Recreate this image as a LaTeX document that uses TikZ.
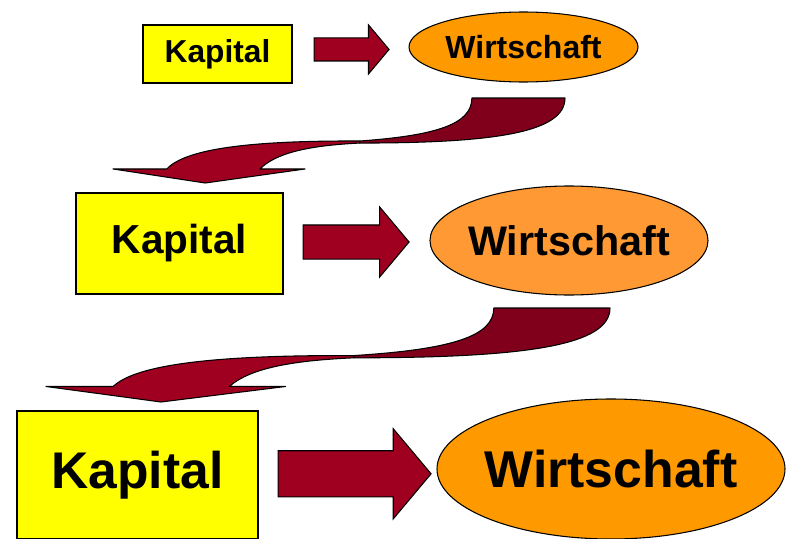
\documentclass[tikz,border=0pt]{standalone}
\usepackage{fontspec}
\setmainfont{Liberation Sans}
\usetikzlibrary{shapes.geometric, shapes.arrows, calc}
\definecolor{kapyellow}{RGB}{255, 255, 0}
\definecolor{wirtorange}{RGB}{255, 153, 0}
\definecolor{wirtlight}{RGB}{255, 153, 51}
\definecolor{arrowred}{RGB}{160, 0, 32}
\definecolor{arrowdark}{RGB}{128, 0, 28}
\newcommand{\ctext}[1]{\makebox[0pt]{#1}}
\tikzset{
    kbox/.style={rectangle, draw, fill=kapyellow, line width=0.8pt, inner sep=0pt, font=\bfseries},
    wellipse/.style={ellipse, draw, fill=wirtorange, line width=0.8pt, inner sep=0pt, font=\bfseries},
    fat/.style={single arrow, draw, fill=arrowred, line width=0.8pt, inner xsep=0pt, single arrow tip angle=100, anchor=tail},
    twist/.pic={
        % dark upper half
        \filldraw[fill=arrowdark, draw=black, line width=0.8pt, line join=round]
            (0.546,0.506) .. controls (0.72,0.44) and (0.794,0.30) .. (0.794,0) -- (1,0)
            .. controls (1,0.4) and (0.85,0.53) .. (0.546,0.53) -- cycle;
        % bright lower half with head
        \filldraw[fill=arrowred, draw=black, line width=0.8pt, line join=round]
            (0.546,0.506) .. controls (0.30,0.50) and (0.16,0.60) .. (0.119,0.835)
            -- (0,0.835) -- (0.204,1) -- (0.425,0.835) -- (0.325,0.835)
            .. controls (0.36,0.65) and (0.43,0.56) .. (0.546,0.53) -- cycle;
    }
}

\begin{document}
\begin{tikzpicture}[x=0.75pt, y=-0.75pt]
    \useasboundingbox (0,0) rectangle (786,539);

    % Row 1
    \node[kbox, minimum width=111.75pt, minimum height=43.5pt, font=\bfseries\fontsize{23.8pt}{28pt}\selectfont] (k1) at (217.5,54) {Kapital};
    \node[wellipse, minimum width=171.75pt, minimum height=52.5pt, font=\bfseries\fontsize{24pt}{28pt}\selectfont] (w1) at (523.5,47) {\ctext{Wirtschaft}};
    \coordinate (t1) at ($(k1.east)+(21,0)$);
    \coordinate (m1) at ($(k1.east)!0.65!(w1.west)$);
    \node[fat, minimum height=56.25pt, minimum width=36pt, inner ysep=8.25pt, single arrow head extend=9.75pt] (a1) at (t1 |- m1) {};

    \pic[xscale=452, yscale=85] (bend1) at (113,98) {twist};

    % Row 2
    \node[kbox, minimum width=155.25pt, minimum height=75.75pt, font=\bfseries\fontsize{30.4pt}{34pt}\selectfont] (k2) at (179.5,243.5) {Kapital};
    \node[wellipse, fill=wirtlight, minimum width=208.5pt, minimum height=81.75pt, font=\bfseries\fontsize{31pt}{35pt}\selectfont] (w2) at (569,240.5) {\ctext{Wirtschaft}};
    \coordinate (t2) at ($(k2.east)+(19,0)$);
    \coordinate (m2) at ($(k2.east)!0.5!(w2.west)$);
    \node[fat, minimum height=79.5pt, minimum width=51.75pt, inner ysep=12.375pt, single arrow head extend=13.5pt] (a2) at (t2 |- m2) {};

    \pic[xscale=564, yscale=94] (bend2) at (46,308) {twist};

    % Row 3
    \node[kbox, minimum width=180.75pt, minimum height=96pt, font=\bfseries\fontsize{38.7pt}{44pt}\selectfont] (k3) at (137.5,475) {Kapital};
    \node[wellipse, minimum width=261pt, minimum height=105pt, font=\bfseries\fontsize{38.8pt}{44pt}\selectfont] (w3) at (611,469) {\ctext{Wirtschaft}};
    \coordinate (t3) at ($(k3.east)+(19,0)$);
    \coordinate (m3) at ($(k3.east)!0.2!(w3.west)$);
    \node[fat, minimum height=114.75pt, minimum width=66.75pt, inner ysep=16.875pt, single arrow head extend=16.5pt] (a3) at (t3 |- m3) {};

\end{tikzpicture}
\end{document}
